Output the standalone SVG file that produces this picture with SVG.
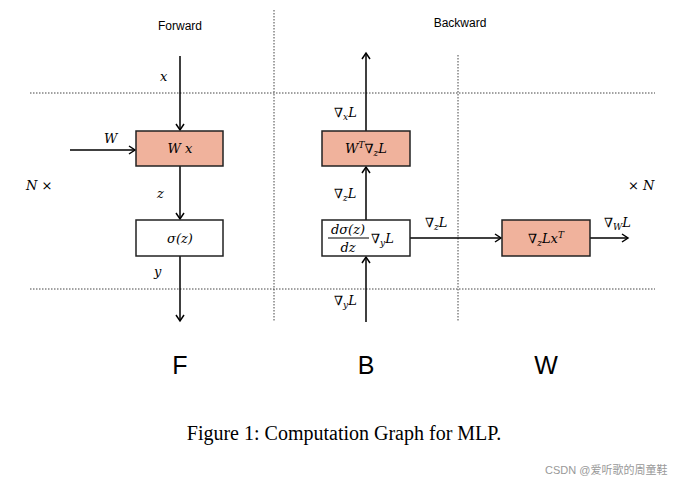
<svg xmlns="http://www.w3.org/2000/svg" width="687" height="486" viewBox="0 0 687 486">
<style>
.dot{stroke:#444;stroke-width:1;stroke-dasharray:1.5 1.5;fill:none}
.ln{stroke:#000;stroke-width:1.5;fill:none}
.box{stroke:#222;stroke-width:1.5}
.m{font-family:"DejaVu Serif",serif;font-style:italic;font-size:13px;fill:#000}
.s{font-family:"Liberation Sans",sans-serif;font-size:12px;fill:#000}
.big{font-family:"Liberation Sans",sans-serif;font-size:25px;fill:#000}
</style>
<defs><marker id="a" markerWidth="10" markerHeight="10" refX="7" refY="5" orient="auto" markerUnits="userSpaceOnUse"><path d="M1,1 L7,5 L1,9" fill="none" stroke="#000" stroke-width="1.5"/></marker></defs>
<rect width="687" height="486" fill="#fff"/>
<g id="grid">
<line class="dot" x1="30" y1="93" x2="655" y2="93"/>
<line class="dot" x1="30" y1="289" x2="655" y2="289"/>
<line class="dot" x1="274" y1="10" x2="274" y2="322"/>
<line class="dot" x1="458" y1="55" x2="458" y2="322"/>
</g>
<g id="connectors">
<line class="ln" x1="180" y1="56" x2="180" y2="130" marker-end="url(#a)"/>
<line class="ln" x1="70" y1="150" x2="135" y2="150" marker-end="url(#a)"/>
<line class="ln" x1="180" y1="166" x2="180" y2="219" marker-end="url(#a)"/>
<line class="ln" x1="180" y1="256" x2="180" y2="321" marker-end="url(#a)"/>
<line class="ln" x1="366" y1="322" x2="366" y2="257" marker-end="url(#a)"/>
<line class="ln" x1="366" y1="220" x2="366" y2="167" marker-end="url(#a)"/>
<line class="ln" x1="366" y1="131" x2="366" y2="53" marker-end="url(#a)"/>
<line class="ln" x1="410" y1="238" x2="501" y2="238" marker-end="url(#a)"/>
<line class="ln" x1="590" y1="238" x2="628" y2="238" marker-end="url(#a)"/>
</g>
<g id="n_wx"><rect class="box" x="136" y="131" width="87" height="35" fill="#f0b29c"/><text class="m" x="180" y="153" text-anchor="middle">W x</text></g>
<g id="n_sig"><rect class="box" x="136" y="220" width="87" height="36" fill="#fff"/><text class="m" x="180" y="243" text-anchor="middle">σ(z)</text></g>
<g id="n_wt"><rect class="box" x="322" y="131" width="88" height="35" fill="#f0b29c"/><text class="m" x="366" y="153" text-anchor="middle">W<tspan font-size="9" dy="-5">T</tspan><tspan dy="5">∇</tspan><tspan font-size="9" dy="3">z</tspan><tspan dy="-3">L</tspan></text></g>
<g id="n_ds"><rect class="box" x="322" y="220" width="88" height="36" fill="#fff"/>
<text class="m" x="348" y="234" text-anchor="middle">dσ(z)</text><line x1="328" y1="238" x2="369" y2="238" stroke="#000" stroke-width="1"/><text class="m" x="348" y="252" text-anchor="middle">dz</text>
<text class="m" x="371" y="243">∇<tspan font-size="9" dy="3">y</tspan><tspan dy="-3">L</tspan></text></g>
<g id="n_w"><rect class="box" x="502" y="220" width="88" height="36" fill="#f0b29c"/><text class="m" x="546" y="243" text-anchor="middle">∇<tspan font-size="9" dy="3">z</tspan><tspan dy="-3">Lx</tspan><tspan font-size="9" dy="-5">T</tspan></text></g>
<g id="labels">
<text class="s" x="180" y="30" text-anchor="middle">Forward</text>
<text class="s" x="460" y="27" text-anchor="middle">Backward</text>
<text class="m" x="160" y="81">x</text>
<text class="m" x="104" y="143">W</text>
<text class="m" x="26" y="190">N ×</text>
<text class="m" x="157" y="198">z</text>
<text class="m" x="154" y="276">y</text>
<text class="m" x="628" y="190">× N</text>
<text class="m" x="334" y="117">∇<tspan font-size="9" dy="3">x</tspan><tspan dy="-3">L</tspan></text>
<text class="m" x="334" y="198">∇<tspan font-size="9" dy="3">z</tspan><tspan dy="-3">L</tspan></text>
<text class="m" x="334" y="305">∇<tspan font-size="9" dy="3">y</tspan><tspan dy="-3">L</tspan></text>
<text class="m" x="425" y="227">∇<tspan font-size="9" dy="3">z</tspan><tspan dy="-3">L</tspan></text>
<text class="m" x="604" y="227">∇<tspan font-size="9" dy="3">W</tspan><tspan dy="-3">L</tspan></text>
<text class="big" x="180" y="374" text-anchor="middle">F</text>
<text class="big" x="366" y="374" text-anchor="middle">B</text>
<text class="big" x="546" y="374" text-anchor="middle">W</text>
<text x="344" y="440" text-anchor="middle" font-family="Liberation Serif,serif" font-size="20">Figure 1: Computation Graph for MLP.</text>
<text x="545" y="474" font-family="'Liberation Sans','Noto Sans CJK SC',sans-serif" font-size="11" fill="#999">CSDN @爱听歌的周童鞋</text>
</g>
</svg>
